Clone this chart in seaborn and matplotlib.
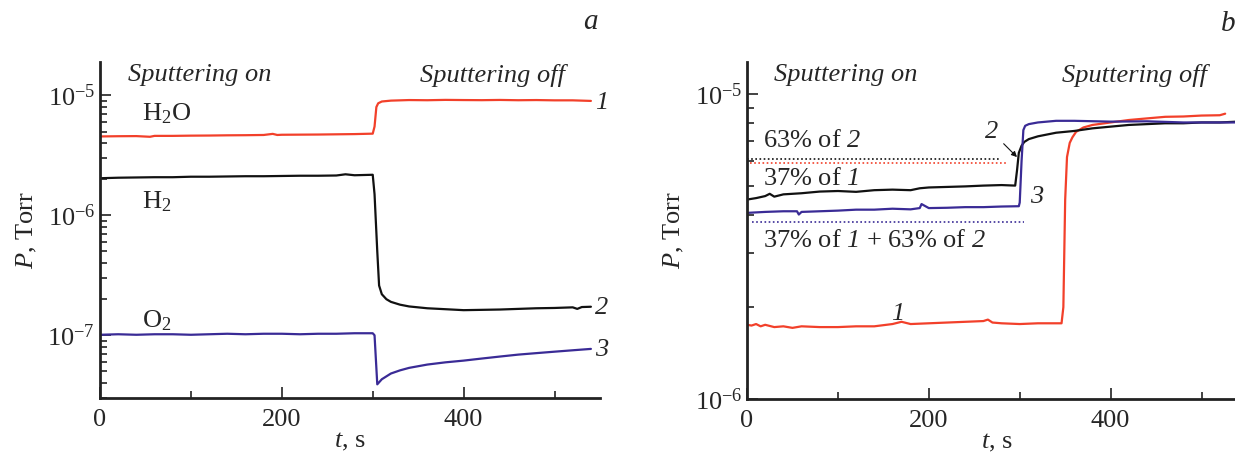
import matplotlib
matplotlib.use("Agg")
import matplotlib.pyplot as plt
import seaborn as sns
import numpy as np
from matplotlib.ticker import LogLocator, MultipleLocator, NullFormatter

# ---- panel a (pressures in 1e-6 Torr) ----
ta_h2o = [0, 20, 40, 55, 60, 80, 100, 120, 140, 160, 180, 190, 195, 200, 220, 240, 260, 280, 300,
          302, 304, 306, 310, 320, 340, 360, 380, 400, 420, 440, 460, 480, 500, 520, 540]
pa_h2o = [4.55, 4.57, 4.58, 4.52, 4.6, 4.6, 4.62, 4.63, 4.65, 4.66, 4.68, 4.78, 4.68, 4.7, 4.71, 4.72,
          4.74, 4.76, 4.8, 5.5, 8.0, 8.6, 8.9, 9.05, 9.15, 9.12, 9.18, 9.15, 9.13, 9.17, 9.12, 9.15,
          9.1, 9.1, 9.0]
ta_h2 = [0, 20, 40, 60, 80, 100, 120, 140, 160, 180, 200, 220, 240, 260, 270, 280, 300,
         302, 305, 307, 310, 315, 320, 330, 340, 360, 380, 400, 420, 440, 460, 480, 500, 520, 525, 530, 540]
pa_h2 = [2.04, 2.06, 2.07, 2.08, 2.08, 2.1, 2.1, 2.11, 2.12, 2.12, 2.13, 2.14, 2.14, 2.15, 2.2, 2.16, 2.18,
         1.5, 0.5, 0.26, 0.22, 0.2, 0.19, 0.18, 0.174, 0.168, 0.165, 0.162, 0.163, 0.164, 0.166, 0.168,
         0.169, 0.171, 0.166, 0.172, 0.173]
ta_o2 = [0, 20, 40, 60, 80, 100, 120, 140, 160, 180, 200, 220, 240, 260, 280, 300,
         302, 305, 310, 320, 330, 340, 360, 380, 400, 420, 440, 460, 480, 500, 520, 540]
pa_o2 = [0.101, 0.102, 0.101, 0.102, 0.102, 0.101, 0.102, 0.103, 0.102, 0.103, 0.103, 0.102, 0.103,
         0.103, 0.104, 0.104, 0.1, 0.039, 0.043, 0.048, 0.051, 0.0535, 0.057, 0.0595, 0.0615, 0.064,
         0.0665, 0.069, 0.071, 0.073, 0.075, 0.077]

# ---- panel b (pressures in 1e-6 Torr) ----
tb_1 = [0, 5, 10, 15, 20, 30, 40, 50, 60, 80, 100, 120, 140, 160, 170, 180, 200, 220, 240, 260, 265, 270,
        280, 300, 320, 340, 346, 348, 350, 352, 355, 358, 362, 370, 380, 400, 420, 440, 460, 480, 500, 520, 526]
pb_1 = [1.75, 1.74, 1.76, 1.73, 1.75, 1.72, 1.73, 1.71, 1.73, 1.72, 1.72, 1.73, 1.73, 1.76, 1.79, 1.76,
        1.77, 1.78, 1.79, 1.8, 1.82, 1.78, 1.77, 1.76, 1.77, 1.77, 1.77, 2.0, 4.5, 6.2, 6.9, 7.2, 7.5,
        7.75, 7.9, 8.05, 8.2, 8.3, 8.4, 8.42, 8.48, 8.5, 8.6]
tb_2 = [0, 10, 20, 25, 30, 40, 60, 80, 100, 120, 140, 160, 180, 190, 200, 220, 240, 260, 280, 295, 297,
        299, 302, 305, 310, 320, 340, 360, 380, 400, 420, 440, 460, 480, 500, 520, 540, 550]
pb_2 = [4.5, 4.55, 4.62, 4.7, 4.6, 4.68, 4.72, 4.78, 4.8, 4.77, 4.83, 4.85, 4.83, 4.9, 4.93, 4.95, 4.97,
        5.0, 5.02, 5.0, 5.6, 6.4, 6.75, 6.95, 7.1, 7.25, 7.45, 7.55, 7.7, 7.8, 7.9, 7.95, 8.0, 8.0,
        8.05, 8.05, 8.1, 8.1]
tb_3 = [0, 20, 40, 55, 57, 60, 80, 100, 120, 140, 160, 180, 190, 192, 200, 220, 240, 260, 280, 299,
        300, 302, 304, 306, 310, 320, 340, 360, 400, 440, 480, 520, 550]
pb_3 = [4.07, 4.1, 4.12, 4.12, 4.02, 4.1, 4.12, 4.14, 4.17, 4.17, 4.2, 4.18, 4.22, 4.35, 4.22, 4.23,
        4.25, 4.25, 4.27, 4.28, 4.4, 6.0, 7.6, 7.85, 7.95, 8.05, 8.15, 8.15, 8.1, 8.12, 8.05, 8.05, 8.05]

# dotted reference levels (1e-6 Torr), their start/end time and colour
ref_levels = [6.1, 5.94, 3.8]
ref_start = [0, 3, 5]
ref_end = [279, 285, 305]
ref_colors = ["black", "red", "blue"]

RED = "#f2402a"
BLACK = "#111111"
BLUE = "#3a2b96"
col = {"black": BLACK, "red": RED, "blue": BLUE}

sns.set_style("ticks")
plt.rcParams["font.family"] = ["Liberation Serif", "DejaVu Serif"]
plt.rcParams["mathtext.fontset"] = "custom"
plt.rcParams["mathtext.rm"] = "Liberation Serif"
plt.rcParams["mathtext.it"] = "Liberation Serif:italic"
plt.rcParams["mathtext.sf"] = "Liberation Serif:italic"
plt.rcParams["axes.unicode_minus"] = True

FS = 19
fig = plt.figure(figsize=(12.35, 4.57), dpi=100)
ax_a = fig.add_axes([100 / 1235, 59 / 457, 500 / 1235, 336 / 457])
ax_b = fig.add_axes([747 / 1235, 58 / 457, 500 / 1235, 337 / 457])

E = 1e-6
sns.lineplot(x=ta_h2o, y=np.array(pa_h2o) * E, ax=ax_a, color=RED, lw=1.6)
sns.lineplot(x=ta_h2, y=np.array(pa_h2) * E, ax=ax_a, color=BLACK, lw=1.6)
sns.lineplot(x=ta_o2, y=np.array(pa_o2) * E, ax=ax_a, color=BLUE, lw=1.6)

sns.lineplot(x=tb_1, y=np.array(pb_1) * E, ax=ax_b, color=RED, lw=1.6)
sns.lineplot(x=tb_2, y=np.array(pb_2) * E, ax=ax_b, color=BLACK, lw=1.6)
sns.lineplot(x=tb_3, y=np.array(pb_3) * E, ax=ax_b, color=BLUE, lw=1.6)
for lvl, s, e, c in zip(ref_levels, ref_start, ref_end, ref_colors):
    ax_b.hlines(lvl * E, s, e, colors=col[c], linestyles=(0, (1, 1.5)), lw=1.2)

ax_a.set_ylim(3e-8, 1.9e-5)
ax_b.set_ylim(1e-6, 1.27e-5)
for ax in (ax_a, ax_b):
    ax.set_yscale("log")
    ax.set_xlim(0, 550)
    ax.xaxis.set_major_locator(MultipleLocator(200))
    ax.xaxis.set_minor_locator(MultipleLocator(100))
    ax.yaxis.set_major_locator(LogLocator(base=10))
    ax.yaxis.set_minor_locator(LogLocator(base=10, subs=np.arange(2, 10)))
    ax.yaxis.set_minor_formatter(NullFormatter())
    ax.tick_params(which="both", direction="in", labelsize=FS, width=1.2, color="#222222")
    ax.tick_params(which="major", length=8)
    ax.tick_params(which="minor", length=5)
    ax.tick_params(axis="x", pad=8)
    for sp in ("top", "right"):
        ax.spines[sp].set_visible(False)
    for sp in ("left", "bottom"):
        ax.spines[sp].set_linewidth(2)
        ax.spines[sp].set_color("#222222")
    ax.set_xlabel("$t$, s", fontsize=FS, labelpad=0)
    ax.set_ylabel("$P$, Torr", fontsize=FS, labelpad=6)
    ax.text(0.055, 0.96, "Sputtering on", transform=ax.transAxes, fontsize=FS,
            style="italic", va="center")

ax_a.text(0.64, 0.96, "Sputtering off", transform=ax_a.transAxes, fontsize=FS,
          style="italic", va="center")
ax_b.text(0.63, 0.96, "Sputtering off", transform=ax_b.transAxes, fontsize=FS,
          style="italic", va="center")

# panel a labels
ax_a.text(46, 7.0e-6, "H$_2$O", fontsize=FS, va="center")
ax_a.text(46, 1.3e-6, "H$_2$", fontsize=FS, va="center")
ax_a.text(46, 1.33e-7, "O$_2$", fontsize=FS, va="center")
ax_a.text(545, 8.6e-6, "1", fontsize=FS, style="italic", va="center")
ax_a.text(545, 1.7e-7, "2", fontsize=FS, style="italic", va="center")
ax_a.text(545, 7.5e-8, "3", fontsize=FS, style="italic", va="center")

# panel b labels
ax_b.text(18, 7.0e-6, "63% of $\\mathsf{2}$", fontsize=FS, va="center")
ax_b.text(18, 5.25e-6, "37% of $\\mathsf{1}$", fontsize=FS, va="center")
ax_b.text(18, 3.3e-6, "37% of $\\mathsf{1}$ + 63% of $\\mathsf{2}$", fontsize=FS, va="center")
ax_b.annotate("2", xy=(297, 6.2e-6), xytext=(262, 7.5e-6), fontsize=FS, style="italic",
              va="center", arrowprops=dict(arrowstyle="-|>", lw=0.8, color=BLACK,
                                           mutation_scale=8, shrinkA=2, shrinkB=0))
ax_b.text(311, 4.6e-6, "3", fontsize=FS, style="italic", va="center")
ax_b.text(158, 1.9e-6, "1", fontsize=FS, style="italic", va="center")

fig.text(583 / 1235, 1 - 22 / 457, "a", fontsize=FS + 2, style="italic", va="center")
fig.text(1221 / 1235, 1 - 24 / 457, "b", fontsize=FS + 2, style="italic", va="center")

fig.savefig("out.png", dpi=100)
plt.close(fig)
